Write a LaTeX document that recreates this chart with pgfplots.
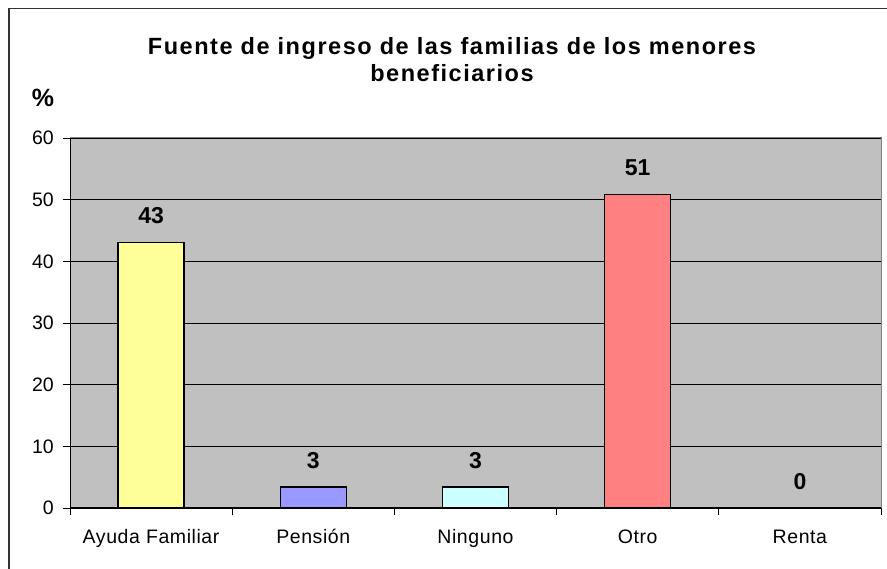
\documentclass[border=0pt]{standalone}
\usepackage{fontspec}
\setmainfont{Liberation Sans}
\usepackage{pgfplots}
\pgfplotsset{compat=1.18}
\definecolor{plotbg}{HTML}{C0C0C0}
\definecolor{cyel}{HTML}{FFFF99}
\definecolor{cblu}{HTML}{9999FF}
\definecolor{ccya}{HTML}{CCFFFF}
\definecolor{cred}{HTML}{FF8080}
\begin{document}
\begin{tikzpicture}
\useasboundingbox (0pt,0pt) rectangle (887pt,569pt);
\draw[line width=1.6pt, black!80] (8.8pt,0pt) -- (8.8pt,560.5pt) -- (887pt,560.5pt);
\node[font=\fontsize{23.5}{27}\selectfont\bfseries\addfontfeature{LetterSpace=6.5}, align=center] at (452pt,509.5pt)
  {Fuente de ingreso de las familias de los menores\\beneficiarios};
\node[font=\fontsize{25}{28}\selectfont\bfseries] at (43pt,471pt) {\%};
\begin{axis}[
  at={(70pt,61pt)}, anchor=south west,
  scale only axis, width=811pt, height=370pt,
  xmin=-0.5, xmax=4.5, ymin=0, ymax=60,
  ybar, bar width=0.407,
  axis background/.style={fill=plotbg},
  axis x line*=bottom, axis y line*=left,
  axis line style={black, line width=1pt, -},
  ytick={0,10,...,60},
  ymajorgrids, grid style={black, line width=0.9pt},
  xtick={0,...,4},
  xticklabels={Ayuda Familiar, Pensión, Ninguno, Otro, Renta},
  major x tick style={draw=none},
  minor xtick={-0.5,0.5,...,4.5},
  tick align=outside,
  major tick length=7pt, minor tick length=7pt,
  tick style={black, line width=0.9pt},
  /pgf/number format/assume math mode=true,
  ticklabel style={font=\fontsize{19.5}{22}\selectfont},
  xticklabel style={font=\fontsize{19.5}{22}\selectfont\addfontfeature{LetterSpace=3}, anchor=north, inner sep=0pt, text height=14pt, text depth=4pt, yshift=-14pt},
  yticklabel style={inner sep=0pt, xshift=-9pt},
  nodes near coords,
  point meta=explicit symbolic,
  every node near coord/.append style={font=\fontsize{23}{26}\selectfont\bfseries, anchor=south, inner sep=0pt, yshift=18pt},
  clip=false,
]
\addplot[bar shift=0pt, fill=cyel, draw=black, line width=1.3pt] coordinates {(0,43.1) [43]};
\addplot[bar shift=0pt, fill=cblu, draw=black, line width=1.3pt] coordinates {(1,3.4) [3]};
\addplot[bar shift=0pt, fill=ccya, draw=black, line width=1.3pt] coordinates {(2,3.4) [3]};
\addplot[bar shift=0pt, fill=cred, draw=black, line width=1.3pt] coordinates {(3,50.8) [51]};
\addplot[bar shift=0pt, fill=none, draw=none] coordinates {(4,0) [0]};
\draw[black!50, line width=1pt] (rel axis cs:0,1) -- (rel axis cs:1,1) -- (rel axis cs:1,0);
\end{axis}
\end{tikzpicture}
\end{document}
